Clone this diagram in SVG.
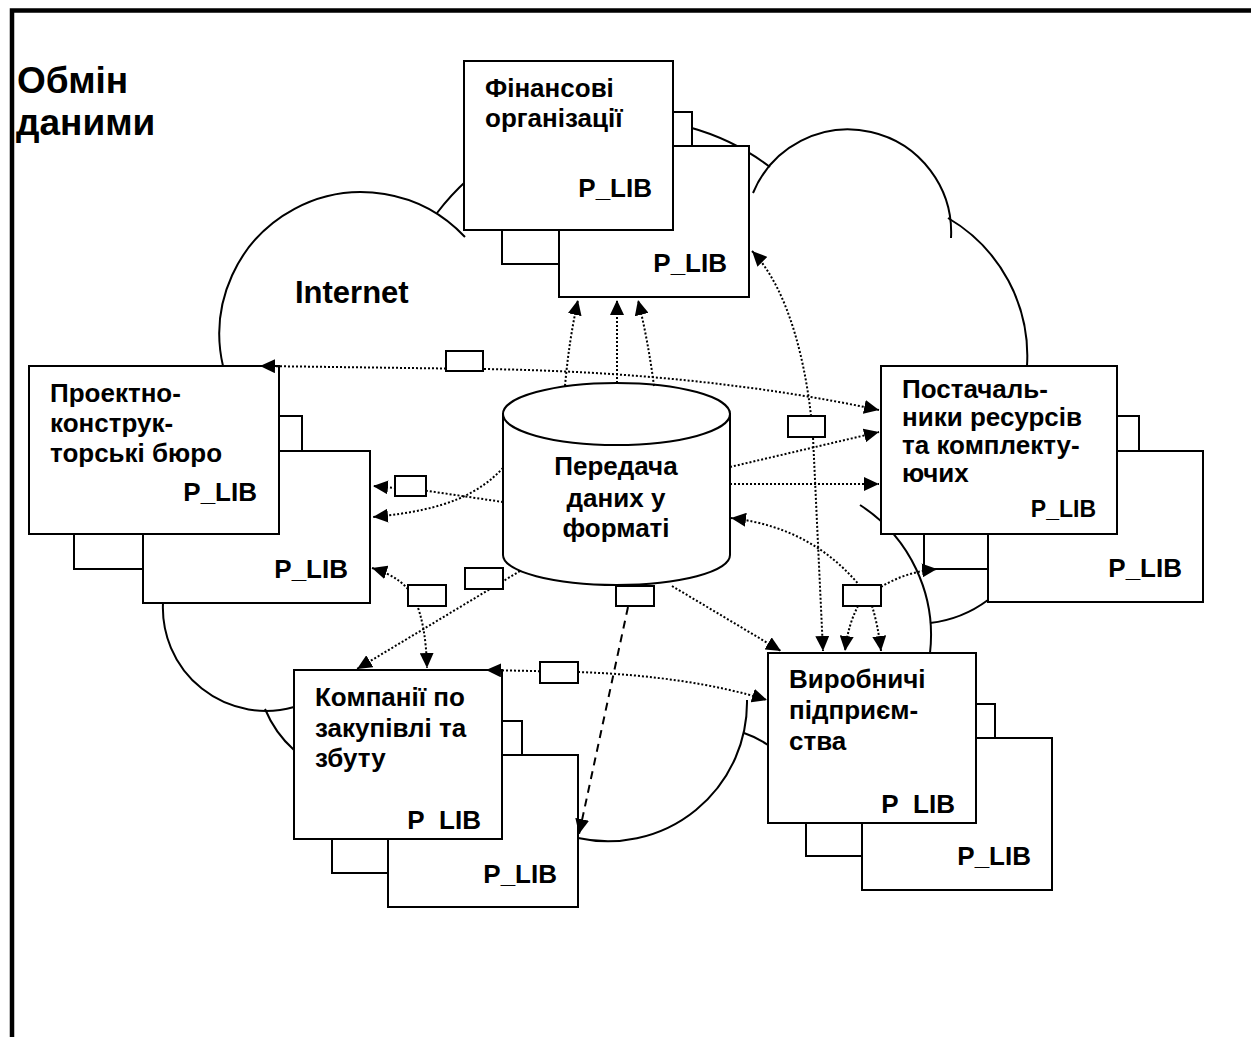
<svg xmlns="http://www.w3.org/2000/svg" width="1251" height="1037" viewBox="0 0 1251 1037">
  <style>
    .box { fill: #fff; stroke: #000; stroke-width: 2; }
    .cloud { fill: none; stroke: #000; stroke-width: 2; }
    .dot { fill: none; stroke: #000; stroke-width: 2; stroke-dasharray: 2 2; }
    .dash { fill: none; stroke: #000; stroke-width: 2; stroke-dasharray: 8 6; }
    .lbl { fill: #fff; stroke: #000; stroke-width: 2; }
    .t { font-family: "Liberation Sans", Arial, sans-serif; font-weight: bold; font-size: 26px; fill: #000; }
    .end { text-anchor: end; }
    .mid { text-anchor: middle; }
  </style>
  <defs>
    <marker id="arrow" viewBox="0 0 15 14" refX="15" refY="7" markerWidth="15" markerHeight="14" markerUnits="userSpaceOnUse" orient="auto-start-reverse">
      <path d="M0,0 L15,7 L0,14 z" fill="#000"/>
    </marker>
  </defs>

  <rect x="0" y="0" width="1251" height="1037" fill="#fff"/>
  <!-- page frame (top and left edges) -->
  <path d="M12,1037 L12,10.5 L1251,10.5" fill="none" stroke="#000" stroke-width="4.5"/>

  <!-- title -->
  <text class="t" x="17" y="93" style="font-size:37px">Обмін</text>
  <text class="t" x="16" y="135" style="font-size:37px">даними</text>

  <!-- Internet cloud outline -->
  <g id="cloud">
    <path class="cloud" d="M223,366 A142,142 0 0 1 465,237"/>
    <path class="cloud" d="M437,213 A238,238 0 0 1 770,167"/>
    <path class="cloud" d="M753,193 A103,103 0 0 1 951,238"/>
    <path class="cloud" d="M948,218 A160,160 0 0 1 1027,366"/>
    <path class="cloud" d="M860,505 A155,155 0 0 1 930,653"/>
    <path class="cloud" d="M930,623 A120,120 0 0 0 988,600"/>
    <path class="cloud" d="M747,700 A139,139 0 0 1 578,838"/>
    <path class="cloud" d="M744,733 Q756,737 768,745"/>
    <path class="cloud" d="M163,603 A103,103 0 0 0 294,707"/>
    <path class="cloud" d="M265,709 Q275,733 294,750"/>
    <text class="t" x="295" y="303" style="font-size:31px">Internet</text>
  </g>

  <!-- Фінансові організації -->
  <g id="node-finance">
    <rect class="box" x="660" y="112" width="32" height="40"/>
    <rect class="box" x="502" y="220" width="70" height="44"/>
    <rect class="box" x="559" y="146" width="190" height="151"/>
    <rect class="box" x="464" y="61" width="209" height="169"/>
    <text class="t" x="485" y="97">Фінансові</text>
    <text class="t" x="485" y="127">організації</text>
    <text class="t end" x="652" y="197">P_LIB</text>
    <text class="t end" x="727" y="272">P_LIB</text>
  </g>

  <!-- Проектно-конструкторські бюро -->
  <g id="node-design">
    <rect class="box" x="265" y="416" width="37" height="40"/>
    <rect class="box" x="74" y="524" width="80" height="45"/>
    <rect class="box" x="143" y="451" width="227" height="152"/>
    <rect class="box" x="29" y="366" width="250" height="168"/>
    <text class="t" x="50" y="402">Проектно-</text>
    <text class="t" x="50" y="432">конструк-</text>
    <text class="t" x="50" y="462">торські бюро</text>
    <text class="t end" x="257" y="501">P_LIB</text>
    <text class="t end" x="348" y="578">P_LIB</text>
  </g>

  <!-- Постачальники ресурсів та комплектуючих -->
  <g id="node-suppliers">
    <rect class="box" x="1105" y="416" width="34" height="40"/>
    <rect class="box" x="924" y="524" width="75" height="45"/>
    <rect class="box" x="988" y="451" width="215" height="151"/>
    <rect class="box" x="881" y="366" width="236" height="168"/>
    <text class="t" x="902" y="398">Постачаль-</text>
    <text class="t" x="902" y="426">ники ресурсів</text>
    <text class="t" x="902" y="454">та комплекту-</text>
    <text class="t" x="902" y="482">ючих</text>
    <text class="t end" x="1096" y="517" style="font-size:23px">P_LIB</text>
    <text class="t end" x="1182" y="577">P_LIB</text>
  </g>

  <!-- Компанії по закупівлі та збуту -->
  <g id="node-trade">
    <rect class="box" x="490" y="721" width="32" height="40"/>
    <rect class="box" x="332" y="829" width="66" height="44"/>
    <rect class="box" x="388" y="755" width="190" height="152"/>
    <rect class="box" x="294" y="670" width="208" height="169"/>
    <text class="t" x="315" y="706">Компанії по</text>
    <text class="t" x="315" y="737">закупівлі та</text>
    <text class="t" x="315" y="767">збуту</text>
    <text class="t end" x="481" y="829">P&#160;&#160;LIB</text>
    <text class="t end" x="557" y="883">P_LIB</text>
  </g>

  <!-- Виробничі підприємства -->
  <g id="node-production">
    <rect class="box" x="964" y="704" width="31" height="40"/>
    <rect class="box" x="806" y="813" width="66" height="43"/>
    <rect class="box" x="862" y="738" width="190" height="152"/>
    <rect class="box" x="768" y="653" width="208" height="170"/>
    <text class="t" x="789" y="688">Виробничі</text>
    <text class="t" x="789" y="719">підприєм-</text>
    <text class="t" x="789" y="750">ства</text>
    <text class="t end" x="955" y="813">P&#160;&#160;LIB</text>
    <text class="t end" x="1031" y="865">P_LIB</text>
  </g>

  <!-- data exchange store -->
  <g id="node-store">
    <path class="box" d="M503,414 L503,555 A113.5,30 0 0 0 730,555 L730,414 Z"/>
    <ellipse class="box" cx="616.5" cy="414" rx="113.5" ry="31"/>
    <text class="t mid" x="616" y="475">Передача</text>
    <text class="t mid" x="616" y="507">даних у</text>
    <text class="t mid" x="616" y="537">форматі</text>
  </g>

  <!-- data flows -->
  <g id="connectors">
    <!-- store to finance -->
    <path class="dot" d="M565,386 Q569,340 578,300" marker-end="url(#arrow)"/>
    <path class="dot" d="M617,383 L617,300" marker-end="url(#arrow)"/>
    <path class="dot" d="M654,386 Q648,340 638,300" marker-end="url(#arrow)"/>
    <!-- design bureau to suppliers -->
    <path class="dot" d="M260,366 L483,369 Q700,372 879,410" marker-start="url(#arrow)" marker-end="url(#arrow)"/>
    <!-- finance to production -->
    <path class="dot" d="M752,251 C790,290 808,370 813,437 L823,651" marker-start="url(#arrow)" marker-end="url(#arrow)"/>
    <!-- store to suppliers -->
    <path class="dot" d="M730,467 L879,432" marker-end="url(#arrow)"/>
    <path class="dot" d="M730,484 L879,484" marker-end="url(#arrow)"/>
    <!-- production hub -->
    <path class="dot" d="M860,586 C830,550 790,525 731,518" marker-end="url(#arrow)"/>
    <path class="dot" d="M881,587 Q905,572 937,569" marker-end="url(#arrow)"/>
    <path class="dot" d="M858,606 Q848,625 845,651" marker-end="url(#arrow)"/>
    <path class="dot" d="M872,606 Q878,625 881,651" marker-end="url(#arrow)"/>
    <!-- store to production -->
    <path class="dot" d="M672,586 L781,651" marker-end="url(#arrow)"/>
    <!-- trade to production -->
    <path class="dot" d="M486,670 L578,672 Q690,676 767,700" marker-start="url(#arrow)" marker-end="url(#arrow)"/>
    <!-- store to trade -->
    <path class="dash" d="M628,607 L579,834" marker-end="url(#arrow)"/>
    <path class="dot" d="M520,571 L357,669" marker-end="url(#arrow)"/>
    <!-- design bureau to trade -->
    <path class="dot" d="M372,568 Q405,578 415,600 Q426,625 427,668" marker-start="url(#arrow)" marker-end="url(#arrow)"/>
    <!-- store to design bureau -->
    <path class="dot" d="M503,502 L428,491 L373,486" marker-end="url(#arrow)"/>
    <path class="dot" d="M503,468 C480,492 450,510 373,517" marker-end="url(#arrow)"/>

    <!-- message labels -->
    <rect class="lbl" x="446" y="351" width="37" height="20"/>
    <rect class="lbl" x="788" y="416" width="37" height="21"/>
    <rect class="lbl" x="395" y="476" width="31" height="20"/>
    <rect class="lbl" x="465" y="568" width="38" height="21"/>
    <rect class="lbl" x="408" y="585" width="38" height="21"/>
    <rect class="lbl" x="616" y="586" width="38" height="20"/>
    <rect class="lbl" x="540" y="662" width="38" height="21"/>
    <rect class="lbl" x="843" y="585" width="38" height="21"/>
  </g>
</svg>
